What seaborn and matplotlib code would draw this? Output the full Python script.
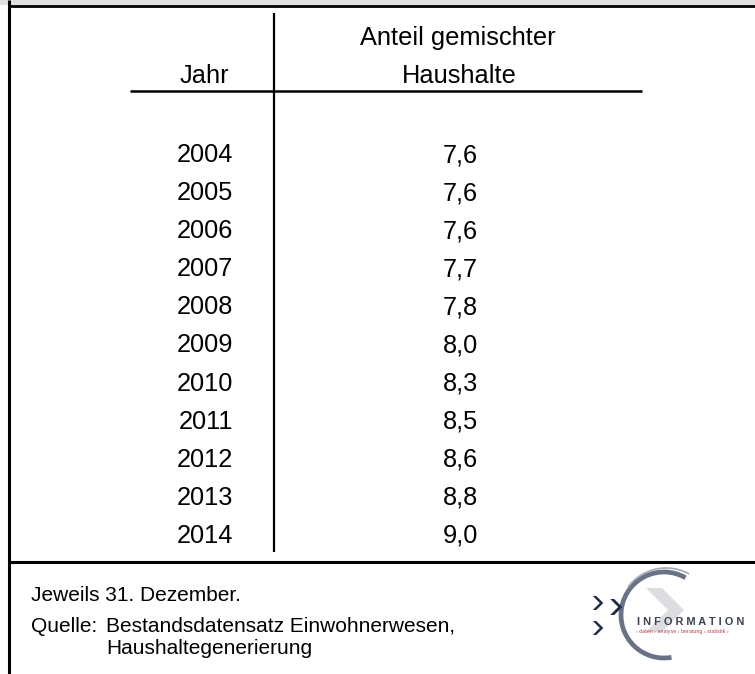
import matplotlib
matplotlib.use("Agg")
import matplotlib.pyplot as plt
from matplotlib.patches import Arc, Polygon, Rectangle
import seaborn as sns

# ---- data ----
years = ["2004", "2005", "2006", "2007", "2008", "2009", "2010", "2011", "2012", "2013", "2014"]
shares = [7.6, 7.6, 7.6, 7.7, 7.8, 8.0, 8.3, 8.5, 8.6, 8.8, 9.0]
col_year = "Jahr"
col_share = ["Anteil gemischter", "Haushalte"]
note = "Jeweils 31. Dezember."
source_label = "Quelle:"
source_lines = ["Bestandsdatensatz Einwohnerwesen,", "Haushaltegenerierung"]

sns.set_theme(style="white")
plt.rcParams["font.family"] = ["Liberation Sans", "DejaVu Sans"]

W, H = 755, 674
fig = plt.figure(figsize=(W / 100, H / 100), dpi=100)
ax = fig.add_axes([0, 0, 1, 1])
ax.set_xlim(0, W)
ax.set_ylim(H, 0)
ax.axis("off")

# frame
ax.add_patch(Rectangle((0, 0), W, 5, facecolor="#e0e0e0", edgecolor="none"))
ax.plot([8, W], [5.5, 5.5], color="black", lw=2.0, solid_capstyle="butt")
ax.plot([9, 9], [0, H], color="black", lw=2.2, solid_capstyle="butt")
ax.plot([8, W], [562, 562], color="black", lw=2.2, solid_capstyle="butt")

# table structure
ax.plot([274, 274], [13, 552], color="black", lw=1.6, solid_capstyle="butt")
ax.plot([130, 642], [91, 91], color="black", lw=1.8, solid_capstyle="butt")

fs = 18.3
ax.text(458, 45, col_share[0], ha="center", va="baseline", fontsize=fs, color="black")
ax.text(459, 83, col_share[1], ha="center", va="baseline", fontsize=fs, color="black")
ax.text(229, 83, col_year, ha="right", va="baseline", fontsize=fs, color="black")

y0, dy = 162, 38.1
for i, (yr, v) in enumerate(zip(years, shares)):
    yb = y0 + i * dy
    ax.text(233, yb, yr, ha="right", va="baseline", fontsize=fs, color="black")
    ax.text(478, yb, f"{v:.1f}".replace(".", ","), ha="right", va="baseline",
            fontsize=fs, color="black")

# footer
ffs = 15.0
ax.text(31, 601, note, ha="left", va="baseline", fontsize=ffs, color="black")
ax.text(31, 632, source_label, ha="left", va="baseline", fontsize=ffs, color="black")
ax.text(106, 632, source_lines[0], ha="left", va="baseline", fontsize=ffs, color="black")
ax.text(106, 654, source_lines[1], ha="left", va="baseline", fontsize=ffs, color="black")

# logo (approximation)
cx, cy, r = 664, 615, 43
ax.add_patch(Polygon([[646, 588], [662, 588], [684, 610], [662, 632], [646, 632], [668, 610]],
                     closed=True, facecolor="#dcdde0", edgecolor="none"))
ax.add_patch(Arc((cx, cy), 2 * r, 2 * r, theta1=80, theta2=300, color="#6a7286", lw=3.4))
ax.add_patch(Arc((cx + 2, cy - 1), 2 * r + 8, 2 * r + 6, theta1=215, theta2=300,
                 color="#a4a9b5", lw=1.2))
for (px, py, s) in [(597, 603, 7), (615, 607, 8), (597, 628, 7)]:
    ax.add_patch(Polygon([[px - s * 0.6, py - s], [px + s * 0.4, py], [px - s * 0.6, py + s],
                          [px - s * 0.1, py + s], [px + s * 0.9, py], [px - s * 0.1, py - s]],
                         closed=True, facecolor="#1e2b48", edgecolor="none"))
ax.text(637, 625, "I N F O R M A T I O N", ha="left", va="baseline", fontsize=7.9,
        color="#3c4150", fontweight="bold", clip_on=True)
ax.text(636, 633, "› daten › analyse › beratung › statistik ›", ha="left", va="baseline",
        fontsize=3.9, color="#b5474a", clip_on=True)

fig.savefig("out.png", dpi=100)
